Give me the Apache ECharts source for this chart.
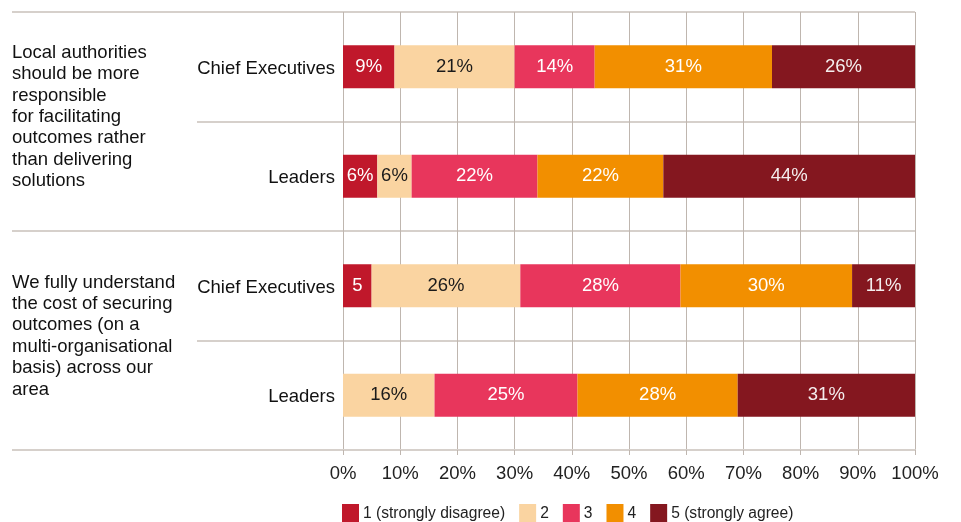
<!DOCTYPE html>
<html>
<head>
<meta charset="utf-8">
<script src="https://cdn.jsdelivr.net/npm/echarts@6/dist/echarts.min.js"></script>
<style>
  html, body { margin: 0; padding: 0; background: #fff; }
  #chart { width: 961px; height: 522px; }
</style>
</head>
<body>
<div id="chart"></div>
<script>
// rows top to bottom
const rows = ['Chief Executives', 'Leaders', 'Chief Executives', 'Leaders']
const groups = [
  'Local authorities\nshould be more\nresponsible\nfor facilitating\noutcomes rather\nthan delivering\nsolutions',
  'We fully understand\nthe cost of securing\noutcomes (on a\nmulti-organisational\nbasis) across our\narea'
]
const seriesNames = ['1 (strongly disagree)', '2', '3', '4', '5 (strongly agree)']
const colors = ['#C0182B', '#FAD4A1', '#E8365C', '#F28F00', '#84171F']
const labelColors = ['#fff', '#1a1a1a', '#fff', '#fff', '#f4eeee']

// segment widths (%) per answer, one value per row
const s1 = [9, 6, 5, 0]
const s2 = [21, 6, 26, 16]
const s3 = [14, 22, 28, 25]
const s4 = [31, 22, 30, 28]
const s5 = [25, 44, 11, 31]
// printed labels
const l1 = ['9%', '6%', '5', '']
const l2 = ['21%', '6%', '26%', '16%']
const l3 = ['14%', '22%', '28%', '25%']
const l4 = ['31%', '22%', '30%', '28%']
const l5 = ['26%', '44%', '11%', '31%']

const values = [s1, s2, s3, s4, s5]
const labels = [l1, l2, l3, l4, l5]

const font = 'Liberation Sans, Arial, sans-serif'
const hLine = '#D6D0CB'
const vLine = '#BFB6AF'

const chart = echarts.init(document.getElementById('chart'))

const option = {
  animation: false,
  textStyle: { fontFamily: font },
  grid: { left: 343, right: 46, top: 12, bottom: 72 },
  legend: {
    data: seriesNames,
    left: 342,
    top: 504,
    padding: 0,
    itemWidth: 17,
    itemHeight: 20,
    itemGap: 14,
    icon: 'rect',
    textStyle: { fontSize: 15.6, color: '#222', fontFamily: font, padding: [0, 0, 0, -1] }
  },
  xAxis: {
    type: 'value',
    min: 0,
    max: 100,
    interval: 10,
    axisLabel: { formatter: '{value}%', fontSize: 18.5, color: '#222', margin: 14 },
    axisLine: { show: true, lineStyle: { color: hLine, width: 2 } },
    axisTick: { show: true, length: 5, lineStyle: { color: vLine, width: 1 } },
    splitLine: { show: true, lineStyle: { color: vLine, width: 1 } }
  },
  yAxis: [
    {
      type: 'category',
      data: rows,
      inverse: true,
      axisLine: { show: false },
      axisTick: { show: true, length: 146, lineStyle: { color: hLine, width: 2 } },
      splitLine: { show: true, lineStyle: { color: hLine, width: 2 } },
      axisLabel: {
        fontSize: 18.5,
        color: '#111',
        margin: 8,
        // small empty line on top nudges the label down a little
        formatter: (v) => '{s|}\n' + v,
        rich: { s: { lineHeight: 4 } }
      }
    },
    {
      type: 'category',
      data: groups,
      inverse: true,
      position: 'left',
      axisLine: { show: false },
      axisTick: { show: true, length: 331, lineStyle: { color: hLine, width: 2 } },
      splitLine: { show: false },
      axisLabel: {
        fontSize: 18.5,
        color: '#111',
        align: 'left',
        margin: 331,
        lineHeight: 21.4,
        // empty line below nudges the block up
        formatter: (v) => v + '\n{s|}',
        rich: { s: { lineHeight: 9 } }
      }
    }
  ],
  series: values.map((vals, i) => ({
    name: seriesNames[i],
    type: 'bar',
    stack: 'total',
    yAxisIndex: 0,
    barWidth: 43,
    data: vals,
    itemStyle: { color: colors[i] },
    label: {
      show: true,
      position: 'inside',
      fontSize: 18.5,
      color: labelColors[i],
      formatter: (p) => labels[i][p.dataIndex]
    }
  }))
}

chart.setOption(option)
</script>
</body>
</html>
